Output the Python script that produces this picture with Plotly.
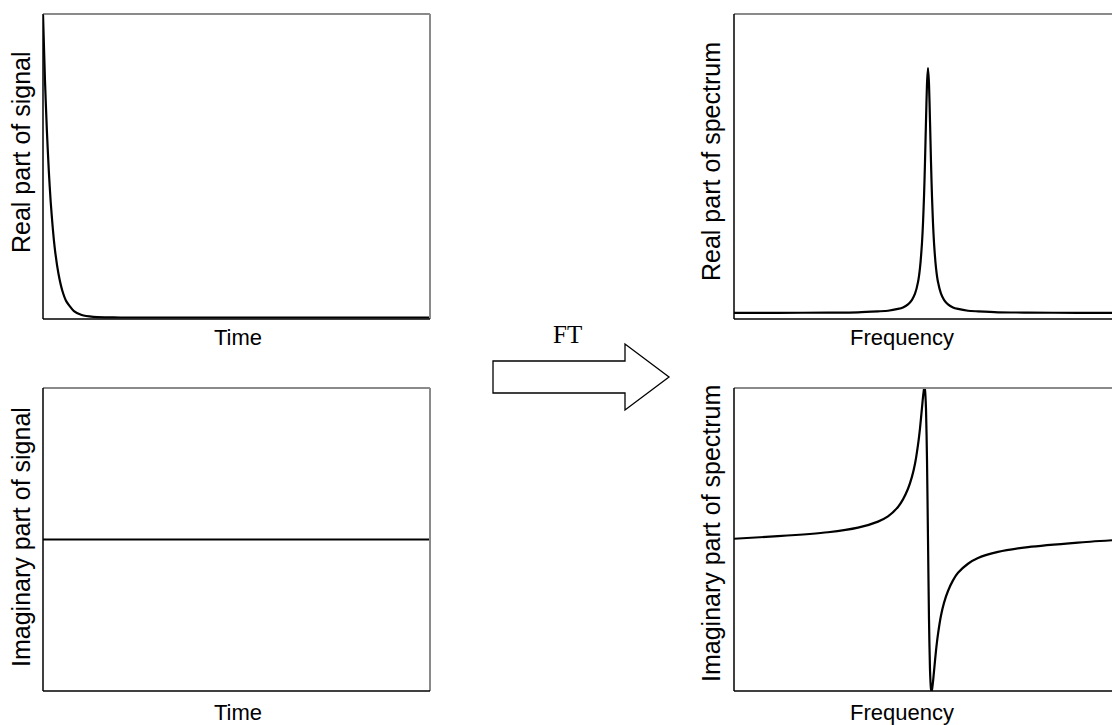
import plotly.graph_objects as go

W, H = 1112, 725

# ---------------- data ----------------
time_t = [0, 0.5, 1, 1.5, 2, 3, 4, 5, 6, 8, 10, 13, 16, 20, 40, 60, 80, 100]
signal_real = [1.0, 0.784, 0.616, 0.483, 0.379, 0.233, 0.144, 0.088, 0.054,
               0.021, 0.008, 0.002, 0.0005, 0, 0, 0, 0, 0]
time_flat = [0, 100]
signal_imag = [0, 0]

freq = [-194, -150, -100, -70, -50, -40, -30, -25, -20, -16, -13, -10, -8, -6, -5,
        -4, -3.5, -3, -2, -1, 0, 1, 2, 3, 3.5, 4, 5, 6, 8, 10, 13, 16, 20, 25, 30,
        40, 50, 70, 100, 150, 184]
spectrum_real = [0.020, 0.020, 0.021, 0.022, 0.025, 0.027, 0.033, 0.038, 0.048,
                 0.063, 0.083, 0.121, 0.168, 0.250, 0.314, 0.401, 0.454, 0.515,
                 0.649, 0.771, 0.823, 0.771, 0.649, 0.515, 0.454, 0.401, 0.314,
                 0.250, 0.168, 0.121, 0.083, 0.063, 0.048, 0.038, 0.033, 0.027,
                 0.025, 0.022, 0.021, 0.020, 0.020]
spectrum_imag = [0.005, 0.022, 0.048, 0.078, 0.118, 0.152, 0.215, 0.265, 0.335,
                 0.415, 0.500, 0.625, 0.734, 0.870, 0.940, 0.991, 1.0, 0.988,
                 0.862, 0.528, 0.0, -0.528, -0.862, -0.988, -1.0, -0.991, -0.940,
                 -0.870, -0.734, -0.625, -0.502, -0.418, -0.340, -0.270, -0.220,
                 -0.160, -0.122, -0.082, -0.050, -0.020, -0.005]

# ---------------- layout helpers ----------------
def px(x):
    return x / W

def py(y):
    return 1 - y / H

FONT = "Liberation Sans, Arial, sans-serif"
HSIZE = 22
VSIZE = 25

panels = {
    # name: (xaxis, yaxis, x0px, x1px, top px, bottom px, xrange, yrange)
    "tl": ("x", "y", 43, 430, 14, 319, [0, 100], [-0.005, 1.0]),
    "bl": ("x2", "y2", 43, 430, 388, 691, [0, 100], [-1, 1]),
    "tr": ("x3", "y3", 734, 1112, 14, 319, [-194, 184], [0, 1]),
    "br": ("x4", "y4", 734, 1112, 388, 691, [-194, 184], [-1, 1]),
}

fig = go.Figure()

series = {
    "tl": (time_t, signal_real),
    "bl": (time_flat, signal_imag),
    "tr": (freq, spectrum_real),
    "br": (freq, spectrum_imag),
}

layout = dict(
    width=W, height=H,
    margin=dict(l=0, r=0, t=0, b=0),
    paper_bgcolor="white", plot_bgcolor="white",
    showlegend=False,
)

shapes = []
for name, (xa, ya, x0, x1, y0, y1, xr, yr) in panels.items():
    xs, ys = series[name]
    fig.add_trace(go.Scatter(x=xs, y=ys, mode="lines", xaxis=xa, yaxis=ya,
                             line=dict(color="black", width=2.2, shape="spline",
                                       smoothing=0.6),
                             hoverinfo="skip"))
    xkey = "xaxis" if xa == "x" else "xaxis" + xa[1:]
    ykey = "yaxis" if ya == "y" else "yaxis" + ya[1:]
    axstyle = dict(showgrid=False, zeroline=False, showticklabels=False,
                   showline=False, ticks="", fixedrange=True)
    layout[xkey] = dict(domain=[px(x0), px(x1)], range=xr, anchor=ya, **axstyle)
    layout[ykey] = dict(domain=[py(y1), py(y0)], range=yr, anchor=xa, **axstyle)
    xd, yd = xa + " domain", ya + " domain"
    shapes.append(dict(type="line", xref=xd, yref=yd, x0=0, x1=1, y0=1, y1=1,
                       line=dict(color="#8a8a8a", width=2)))
    if name in ("tl", "bl"):
        shapes.append(dict(type="line", xref=xd, yref=yd, x0=1, x1=1, y0=0, y1=1,
                           line=dict(color="#8a8a8a", width=2)))
    shapes.append(dict(type="line", xref=xd, yref=yd, x0=0, x1=0, y0=0, y1=1,
                       line=dict(color="black", width=1.5)))
    shapes.append(dict(type="line", xref=xd, yref=yd, x0=0, x1=1, y0=0, y1=0,
                       line=dict(color="black", width=1.3)))

# block arrow
arrow_pts = [(493, 361), (625, 361), (625, 344), (669, 377), (625, 410),
             (625, 393), (493, 393)]
path = "M " + " L ".join(f"{px(a):.5f},{py(b):.5f}" for a, b in arrow_pts) + " Z"
shapes.append(dict(type="path", xref="paper", yref="paper", path=path,
                   line=dict(color="black", width=1.3), fillcolor="white"))

layout["shapes"] = shapes

annots = []
def txt(text, x, y, angle=0, size=HSIZE, family=FONT):
    annots.append(dict(text=text, x=px(x), y=py(y), xref="paper", yref="paper",
                       showarrow=False, textangle=angle, xanchor="center",
                       yanchor="middle", font=dict(family=family, size=size,
                                                   color="black")))

txt("Time", 238, 337)
txt("Time", 238, 712)
txt("Frequency", 902, 337)
txt("Frequency", 902, 712)
txt("Real part of signal", 21, 152, angle=-90, size=VSIZE)
txt("Imaginary part of signal", 21, 537, angle=-90, size=VSIZE)
txt("Real part of spectrum", 711, 162, angle=-90, size=VSIZE)
txt("Imaginary part of spectrum", 711, 534, angle=-90, size=VSIZE)
txt("FT", 567, 334, size=25, family="Liberation Serif, Times New Roman, serif")

layout["annotations"] = annots
fig.update_layout(**layout)
fig.write_html("out.html",
               config={"displayModeBar": False, "staticPlot": True},
               post_script="document.body.style.margin='0px';"
                           "document.body.style.overflow='hidden';")
